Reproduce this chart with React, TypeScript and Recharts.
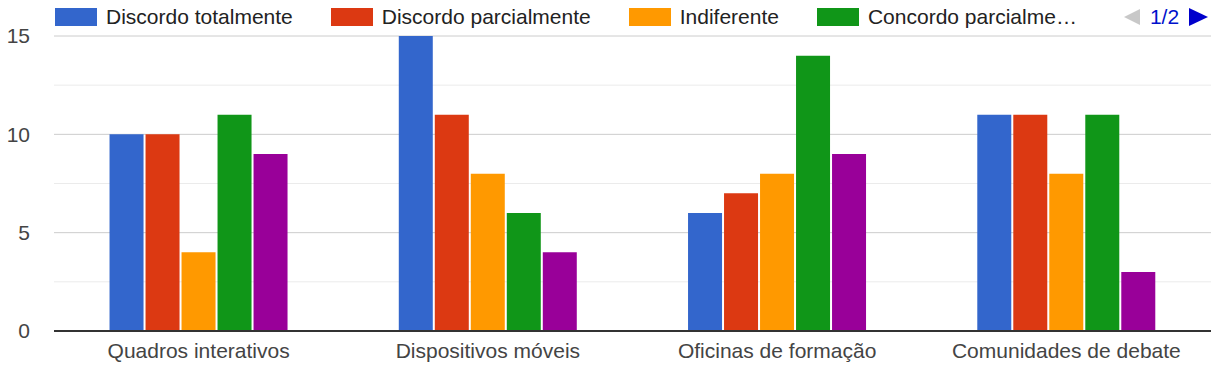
import React from "react";
import { Bar, BarChart, CartesianGrid, XAxis, YAxis } from "recharts";

const categories = [
  "Quadros interativos",
  "Dispositivos móveis",
  "Oficinas de formação",
  "Comunidades de debate",
];

const seriesNames = [
  "Discordo totalmente",
  "Discordo parcialmente",
  "Indiferente",
  "Concordo parcialmente",
  "Concordo totalmente",
];

const discordoTotalmente = [10, 15, 6, 11];
const discordoParcialmente = [10, 11, 7, 11];
const indiferente = [4, 8, 8, 8];
const concordoParcialmente = [11, 6, 14, 11];
const concordoTotalmente = [9, 4, 9, 3];

const majorTicks = [0, 5, 10, 15];
const allTicks = [0, 2.5, 5, 7.5, 10, 12.5, 15];

// legend page 1 of 2, as the source shows it
const legendLabels = ["Discordo totalmente", "Discordo parcialmente", "Indiferente", "Concordo parcialme…"];

const colors = ["#3366cc", "#dc3912", "#ff9900", "#109618", "#990099"];
const font = "'Liberation Sans', Arial, sans-serif";

const values = [discordoTotalmente, discordoParcialmente, indiferente, concordoParcialmente, concordoTotalmente];
const data = categories.map((c, i) => {
  const row: Record<string, string | number> = { name: c };
  seriesNames.forEach((s, k) => (row[s] = values[k][i]));
  return row;
});

function LegendBar() {
  return (
    <div
      style={{
        position: "absolute",
        top: 5,
        left: 55,
        display: "flex",
        alignItems: "center",
        fontFamily: font,
        fontSize: 21,
        color: "#222",
        whiteSpace: "nowrap",
        height: 24,
      }}
    >
      {legendLabels.map((l, i) => (
        <div key={l} style={{ display: "flex", alignItems: "center", marginRight: i === 3 ? 46 : 38 }}>
          <span style={{ width: 42, height: 18, background: colors[i], marginRight: 9, display: "inline-block" }} />
          <span>{l}</span>
        </div>
      ))}
      <svg width={18} height={18} style={{ marginRight: 9 }}>
        <polygon points="17,1 17,17 1,9" fill="#c8c8c8" />
      </svg>
      <span style={{ color: "#0011cc", marginRight: 8 }}>1/2</span>
      <svg width={22} height={20}>
        <polygon points="2,1 2,19 21,10" fill="#0000cc" />
      </svg>
    </div>
  );
}

// major lines darker than the minor ones in between
const gridLine = (p: any) => (
  <line
    key={p.key ?? `h-${p.index}`}
    x1={p.x1}
    y1={p.y1}
    x2={p.x2}
    y2={p.y2}
    stroke={p.index % 2 === 0 ? "#cccccc" : "#ebebeb"}
    strokeWidth={1}
    fill="none"
  />
);

export default function App() {
  return (
    <div style={{ position: "absolute", left: 0, top: 0, width: 1225, height: 367, background: "#fff" }}>
      <BarChart
        width={1225}
        height={367}
        data={data}
        margin={{ top: 36, right: 14, left: 0, bottom: 0 }}
        barCategoryGap="19.2%"
        barGap={2}
      >
        <CartesianGrid vertical={false} horizontal={gridLine} />
        <XAxis
          dataKey="name"
          height={36}
          axisLine={{ stroke: "#333", strokeWidth: 2 }}
          tickLine={false}
          tickMargin={6}
          tick={{ fontSize: 21, fill: "#444", fontFamily: font }}
        />
        <YAxis
          width={54}
          domain={[0, 15]}
          ticks={allTicks}
          interval={0}
          tickFormatter={(v: number) => (majorTicks.includes(v) ? String(v) : "")}
          axisLine={false}
          tickLine={false}
          tickMargin={18}
          tick={{ fontSize: 21, fill: "#444", fontFamily: font }}
        />
        {seriesNames.map((s, i) => (
          <Bar key={s} dataKey={s} fill={colors[i]} isAnimationActive={false} />
        ))}
      </BarChart>
      <LegendBar />
    </div>
  );
}
